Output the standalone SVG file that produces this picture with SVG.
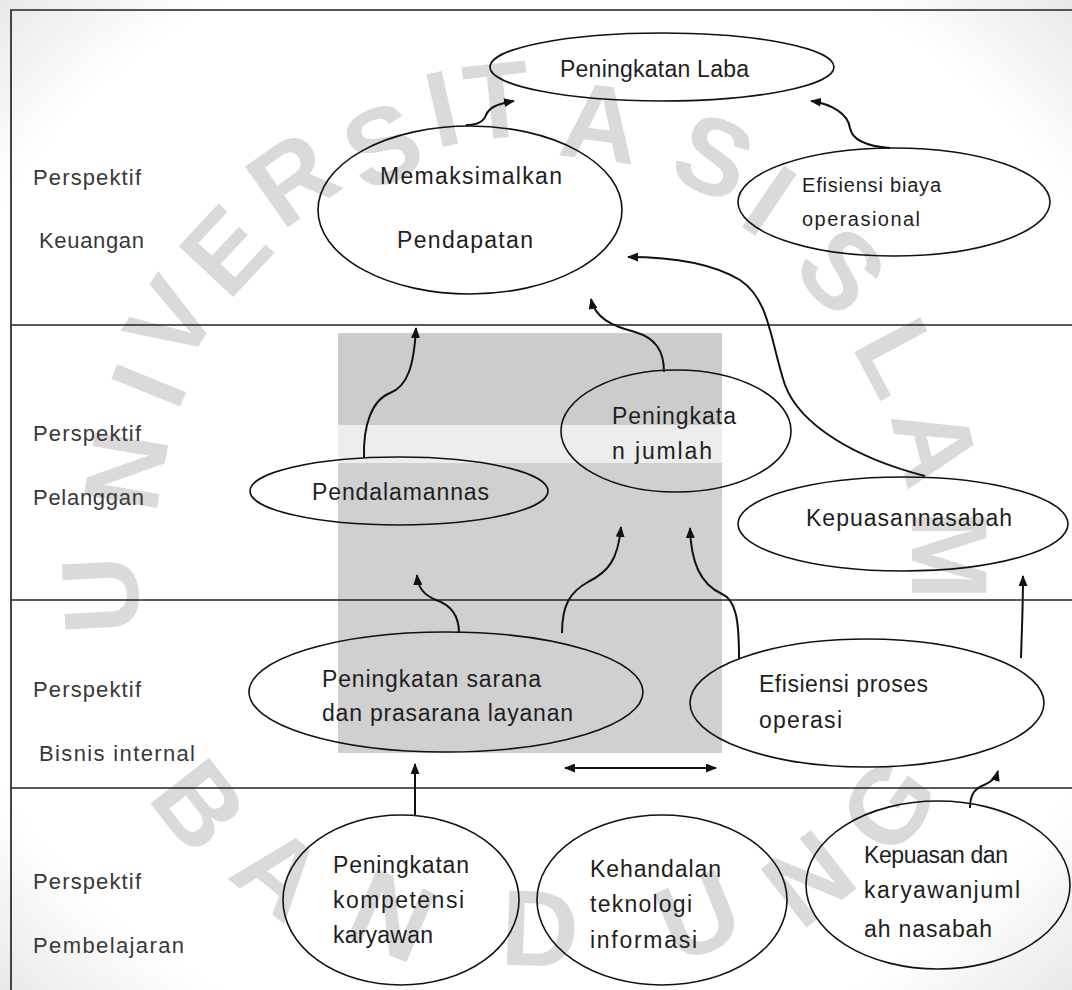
<svg xmlns="http://www.w3.org/2000/svg" width="1072" height="990" viewBox="0 0 1072 990">
  <style>
    .wm { font-family: "Liberation Sans", Arial, sans-serif; font-weight: bold; font-size: 108px; fill: #dadada; text-anchor: middle; }
    .lbl { font-family: "Liberation Sans", Arial, sans-serif; font-size: 22px; fill: #383838; }
    .t { font-family: "Liberation Sans", Arial, sans-serif; font-size: 23px; fill: #1e1e1e; }
    .ts { font-family: "Liberation Sans", Arial, sans-serif; font-size: 20px; fill: #1e1e1e; }
    .node ellipse { fill: none; stroke: #111111; stroke-width: 1.6; }
    .div { stroke: #222222; stroke-width: 1.6; fill: none; }
    .conn path { fill: none; stroke: #111111; stroke-width: 2; }
  </style>
  <defs>
    <marker id="ah" markerUnits="userSpaceOnUse" markerWidth="11" markerHeight="9" refX="10" refY="4.5" orient="auto">
      <path d="M0,0 L11,4.5 L0,9 z" fill="#111111"/>
    </marker>
    <marker id="ahs" markerUnits="userSpaceOnUse" markerWidth="11" markerHeight="9" refX="10" refY="4.5" orient="auto-start-reverse">
      <path d="M0,0 L11,4.5 L0,9 z" fill="#111111"/>
    </marker>
    <radialGradient id="vig" cx="50%" cy="50%" r="72%">
      <stop offset="0.8" stop-color="#ffffff"/>
      <stop offset="1" stop-color="#e6e6e6"/>
    </radialGradient>
  </defs>

  <rect x="0" y="0" width="1072" height="990" fill="url(#vig)"/>

  <!-- watermark logo blocks -->
  <g id="watermark-logo">
    <rect x="338" y="333" width="384" height="92" fill="#cccccc"/>
    <rect x="338" y="425" width="384" height="38" fill="#ededed"/>
    <rect x="338" y="463" width="384" height="290" fill="#d0d0d0"/>
  </g>

  <!-- watermark letters -->
  <g id="watermark-text">
    <text class="wm" transform="translate(100,595) rotate(-93)" dy="38">U</text>
    <text class="wm" transform="translate(125,470) rotate(-80)" dy="38">N</text>
    <text class="wm" transform="translate(148,385) rotate(-68)" dy="38">I</text>
    <text class="wm" transform="translate(170,320) rotate(-58)" dy="38">V</text>
    <text class="wm" transform="translate(225,250) rotate(-47)" dy="38">E</text>
    <text class="wm" transform="translate(292,178) rotate(-35)" dy="38">R</text>
    <text class="wm" transform="translate(382,145) rotate(-23)" dy="38">S</text>
    <text class="wm" transform="translate(442,108) rotate(-13)" dy="38">I</text>
    <text class="wm" transform="translate(497,100) rotate(-6)" dy="38">T</text>
    <text class="wm" transform="translate(600,122) rotate(7)" dy="38">A</text>
    <text class="wm" transform="translate(714,156) rotate(23)" dy="38">S</text>
    <text class="wm" transform="translate(770,200) rotate(34)" dy="38">I</text>
    <text class="wm" transform="translate(842,270) rotate(47)" dy="38">S</text>
    <text class="wm" transform="translate(900,357) rotate(62)" dy="38">L</text>
    <text class="wm" transform="translate(936,445) rotate(76)" dy="38">A</text>
    <text class="wm" transform="translate(950,555) rotate(90)" dy="38">M</text>
    <text class="wm" transform="translate(200,805) rotate(52)" dy="38">B</text>
    <text class="wm" transform="translate(280,872) rotate(39)" dy="38">A</text>
    <text class="wm" transform="translate(392,915) rotate(23)" dy="38">N</text>
    <text class="wm" transform="translate(540,928) rotate(2)" dy="38">D</text>
    <text class="wm" transform="translate(698,915) rotate(-22)" dy="38">U</text>
    <text class="wm" transform="translate(808,878) rotate(-38)" dy="38">N</text>
    <text class="wm" transform="translate(888,805) rotate(-54)" dy="38">G</text>
  </g>

  <!-- frame and lane dividers -->
  <g id="frame">
    <line x1="10" y1="10" x2="1072" y2="10" stroke="#555555" stroke-width="2"/>
    <line x1="11" y1="10" x2="11" y2="990" stroke="#444444" stroke-width="2"/>
    <line class="div" x1="11" y1="325" x2="1072" y2="325"/>
    <line class="div" x1="11" y1="600" x2="1072" y2="600"/>
    <line class="div" x1="11" y1="788" x2="1072" y2="788"/>
  </g>

  <!-- lane labels -->
  <g id="lane-labels">
    <text class="lbl" x="33" y="185" textLength="108" lengthAdjust="spacing">Perspektif</text>
    <text class="lbl" x="39" y="248" textLength="105" lengthAdjust="spacing">Keuangan</text>
    <text class="lbl" x="33" y="441" textLength="108" lengthAdjust="spacing">Perspektif</text>
    <text class="lbl" x="33" y="505" textLength="111" lengthAdjust="spacing">Pelanggan</text>
    <text class="lbl" x="33" y="697" textLength="108" lengthAdjust="spacing">Perspektif</text>
    <text class="lbl" x="39" y="761" textLength="156" lengthAdjust="spacing">Bisnis internal</text>
    <text class="lbl" x="33" y="889" textLength="108" lengthAdjust="spacing">Perspektif</text>
    <text class="lbl" x="33" y="953" textLength="151" lengthAdjust="spacing">Pembelajaran</text>
  </g>

  <!-- nodes -->
  <g id="n-laba" class="node">
    <ellipse cx="662" cy="67" rx="172" ry="34"/>
    <text class="t" x="560" y="77" textLength="189" lengthAdjust="spacing">Peningkatan Laba</text>
  </g>
  <g id="n-pendapatan" class="node">
    <ellipse cx="470" cy="210" rx="152" ry="84"/>
    <text class="t" x="380" y="184" textLength="182" lengthAdjust="spacing">Memaksimalkan</text>
    <text class="t" x="397" y="248" textLength="136" lengthAdjust="spacing">Pendapatan</text>
  </g>
  <g id="n-biaya" class="node">
    <ellipse cx="894" cy="202" rx="156" ry="54"/>
    <text class="ts" x="802" y="192" textLength="139" lengthAdjust="spacing">Efisiensi biaya</text>
    <text class="ts" x="802" y="226" textLength="118" lengthAdjust="spacing">operasional</text>
  </g>
  <g id="n-pendalaman" class="node">
    <ellipse cx="399" cy="491" rx="149" ry="34"/>
    <text class="t" x="312" y="500" textLength="177" lengthAdjust="spacing">Pendalamannas</text>
  </g>
  <g id="n-jumlah" class="node">
    <ellipse cx="676" cy="431" rx="115" ry="61"/>
    <text class="t" x="612" y="424" textLength="124" lengthAdjust="spacing">Peningkata</text>
    <text class="t" x="612" y="459" textLength="100" lengthAdjust="spacing">n jumlah</text>
  </g>
  <g id="n-kepuasan" class="node">
    <ellipse cx="903" cy="524" rx="165" ry="47"/>
    <text class="t" x="806" y="526" textLength="206" lengthAdjust="spacing">Kepuasannasabah</text>
  </g>
  <g id="n-sarana" class="node">
    <ellipse cx="446" cy="692" rx="197" ry="60"/>
    <text class="t" x="322" y="687" textLength="219" lengthAdjust="spacing">Peningkatan sarana</text>
    <text class="t" x="322" y="721" textLength="251" lengthAdjust="spacing">dan prasarana layanan</text>
  </g>
  <g id="n-proses" class="node">
    <ellipse cx="867" cy="703" rx="177" ry="64"/>
    <text class="t" x="759" y="692" textLength="169" lengthAdjust="spacing">Efisiensi proses</text>
    <text class="t" x="759" y="728" textLength="83" lengthAdjust="spacing">operasi</text>
  </g>
  <g id="n-kompetensi" class="node">
    <ellipse cx="401" cy="900" rx="118" ry="85"/>
    <text class="t" x="333" y="873" textLength="136" lengthAdjust="spacing">Peningkatan</text>
    <text class="t" x="333" y="908" textLength="131" lengthAdjust="spacing">kompetensi</text>
    <text class="t" x="333" y="943" textLength="100" lengthAdjust="spacing">karyawan</text>
  </g>
  <g id="n-teknologi" class="node">
    <ellipse cx="662" cy="900" rx="125" ry="85"/>
    <text class="t" x="590" y="877" textLength="131" lengthAdjust="spacing">Kehandalan</text>
    <text class="t" x="590" y="912" textLength="102" lengthAdjust="spacing">teknologi</text>
    <text class="t" x="590" y="948" textLength="107" lengthAdjust="spacing">informasi</text>
  </g>
  <g id="n-karyawan" class="node">
    <ellipse cx="938" cy="885" rx="132" ry="84"/>
    <text class="t" x="864" y="863" textLength="144" lengthAdjust="spacing">Kepuasan dan</text>
    <text class="t" x="864" y="898" textLength="156" lengthAdjust="spacing">karyawanjuml</text>
    <text class="t" x="864" y="937" textLength="128" lengthAdjust="spacing">ah nasabah</text>
  </g>

  <!-- connectors -->
  <g id="connectors" class="conn">
    <path d="M466,125 C478,125 484,121 486,115 C489,108 496,104 514,101" marker-end="url(#ah)"/>
    <path d="M890,148 C865,146 852,140 850,128 C848,114 832,104 811,101" marker-end="url(#ah)"/>
    <path d="M925,476 C855,458 800,425 785,385 C770,340 770,300 740,280 C710,262 670,257 628,257" marker-end="url(#ah)"/>
    <path d="M664,372 C664,350 655,338 635,332 C612,326 595,318 591,299" marker-end="url(#ah)"/>
    <path d="M364,458 C363,425 372,400 390,393 C408,386 414,365 416,328" marker-end="url(#ah)"/>
    <path d="M459,633 C459,612 448,604 436,600 C424,595 418,588 417,575" marker-end="url(#ah)"/>
    <path d="M562,633 C562,605 570,592 588,582 C608,572 618,560 621,527" marker-end="url(#ah)"/>
    <path d="M739,658 C739,620 736,600 722,594 C700,584 691,562 690,528" marker-end="url(#ah)"/>
    <path d="M1021,658 C1022,625 1023,605 1023,576" marker-end="url(#ah)"/>
    <path d="M415,815 L415,764" marker-end="url(#ah)"/>
    <path d="M970,808 C970,793 976,788 984,785 C992,781 996,778 998,771" marker-end="url(#ah)"/>
    <path d="M565,768 L716,768" marker-start="url(#ahs)" marker-end="url(#ah)"/>
  </g>
</svg>
